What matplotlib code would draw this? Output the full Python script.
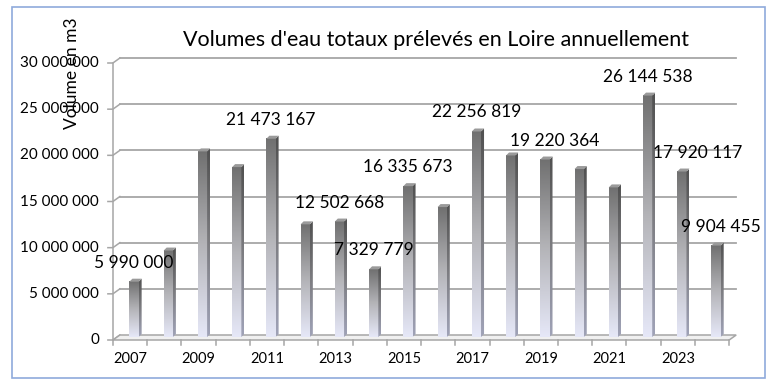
import numpy as np
import matplotlib
matplotlib.use("Agg")
import matplotlib.pyplot as plt
from matplotlib.colors import LinearSegmentedColormap
from matplotlib.patches import Polygon, Rectangle

# data
years = list(range(2007, 2025))
volumes = [5990000, 9360000, 20100000, 18400000, 21473167, 12200000,
           12502668, 7329779, 16335673, 14070000, 22256819, 19660000,
           19220364, 18190000, 16200000, 26144538, 17920117, 9904455]
labelled_years = [2007, 2011, 2013, 2014, 2015, 2017, 2019, 2022, 2023, 2024]
y_ticks = [0, 5000000, 10000000, 15000000, 20000000, 25000000, 30000000]
x_tick_years = years[::2]
title = "Volumes d'eau totaux prélevés en Loire annuellement"
y_label = "Volume en m3"


def fmt(v):
    return f"{int(v):,}".replace(",", " ")


plt.rcParams['font.family'] = ['Lato', 'DejaVu Sans']

W, H = 774, 386
fig = plt.figure(figsize=(W / 100, H / 100), dpi=100)
fig.patches.append(Rectangle((12 / W, 1 - 378 / H), 753 / W, 371 / H,
                             transform=fig.transFigure, fill=False,
                             edgecolor='#8faadc', lw=1.2))

# axes box in pixels (back of the bars)
left, right, bottom, top = 116.9, 733.2, 337, 60
ax = fig.add_axes([left / W, (H - bottom) / H, (right - left) / W, (bottom - top) / H])
ax.axis('off')

ymax = y_ticks[-1]
px_x = len(years) / (right - left)
px_y = ymax / (bottom - top)
# 3d depth: front plane is lower left, back wall upper right
fx, fy = -4 * px_x, -3 * px_y
bx, by = 3 * px_x, 2 * px_y
x_lo, x_hi = -0.5, len(years) - 0.5
grid_col = '#a6a6a6'

# back wall gridlines and the little diagonal links to the front axis
for v in y_ticks[1:]:
    ax.plot([x_lo + bx, x_hi + bx], [v + by] * 2, color=grid_col, lw=1.3,
            clip_on=False, zorder=1)
for v in y_ticks:
    ax.plot([x_lo + fx - 5 * px_x, x_lo + fx, x_lo + bx], [v + fy, v + fy, v + by],
            color=grid_col, lw=1.1, clip_on=False, zorder=1)
    ax.text(x_lo + fx - 14 * px_x, v + fy, fmt(v), ha='right', va='center',
            fontsize=11, color='black')
ax.plot([x_lo + fx] * 2, [fy, ymax + fy], color=grid_col, lw=1.1, clip_on=False, zorder=1)

# floor
floor = Polygon([(x_lo + fx, fy), (x_lo + bx, by), (x_hi + bx, by), (x_hi + fx, fy)],
                closed=True, facecolor='#f0f0f0', edgecolor=grid_col, lw=1.1,
                clip_on=False, zorder=1)
ax.add_patch(floor)
for k in range(len(years) + 1):
    xk = x_lo + k + fx
    ax.plot([xk, xk], [fy, fy - 5 * px_y], color=grid_col, lw=1.1, clip_on=False, zorder=1)
for yr in x_tick_years:
    ax.text(years.index(yr) + fx, fy - 19 * px_y, str(yr), ha='center', va='center',
            fontsize=10.5, color='black')

# gradient bars
front_cmap = LinearSegmentedColormap.from_list('front', ['#707070', '#b4b4b8', '#e6e8f8'])
side_cmap = LinearSegmentedColormap.from_list('side', ['#505050', '#7c7c80', '#a0a3b8'])
grad = np.linspace(0, 1, 256)[:, None]
dx, dy = 3 * px_x, 3 * px_y

bars = ax.bar(range(len(years)), volumes, width=0.27, facecolor='none',
              edgecolor='none', zorder=3)
for rect in bars:
    x0, w, h = rect.get_x(), rect.get_width(), rect.get_height()
    ax.imshow(grad, extent=[x0, x0 + w, 0, h], cmap=front_cmap, aspect='auto',
              interpolation='bilinear', zorder=3)
    side = Polygon([(x0 + w, 0), (x0 + w + dx, dy), (x0 + w + dx, h + dy), (x0 + w, h)],
                   closed=True, facecolor='none', edgecolor='none', zorder=3)
    ax.add_patch(side)
    im = ax.imshow(grad, extent=[x0 + w, x0 + w + dx, 0, h + dy], cmap=side_cmap,
                   aspect='auto', interpolation='bilinear', zorder=3)
    im.set_clip_path(side)
    ax.add_patch(Polygon([(x0, h), (x0 + w, h), (x0 + w + dx, h + dy), (x0 + dx, h + dy)],
                         closed=True, facecolor='#9a9a9a', edgecolor='none', zorder=4))

ax.set_xlim(x_lo, x_hi)
ax.set_ylim(0, ymax)

# value labels
label_shift = {2019: 10, 2023: 16, 2024: 5}
for yr in labelled_years:
    i = years.index(yr)
    ax.annotate(fmt(volumes[i]), (i, volumes[i]),
                xytext=(label_shift.get(yr, 0) * 0.72, 19 * 0.72),
                textcoords='offset points', ha='center', va='center',
                fontsize=12.5, color='black', zorder=5)

fig.text(436 / W, 1 - 40 / H, title, ha='center', va='center', fontsize=15.5, color='black')
fig.text(72 / W, 1 - 73 / H, y_label, ha='center', va='center', rotation=90,
         fontsize=12.5, color='black')

fig.savefig('out.png', dpi=100)
